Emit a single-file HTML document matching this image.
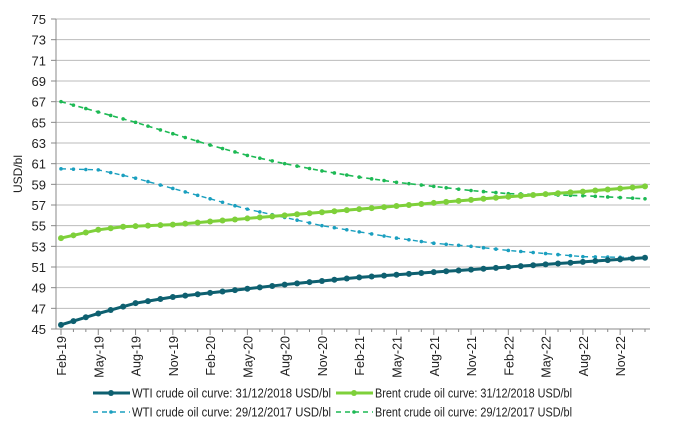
<!DOCTYPE html><html><head><style>body{margin:0;background:#fff}svg{display:block;font-family:"Liberation Sans",sans-serif}</style></head><body>
<svg id="s" width="688" height="443" xmlns="http://www.w3.org/2000/svg"></svg>
<script>
const s=document.getElementById('s');let h='';
const Y=v=>329-(v-45)*10.333;const N=48,x0=61,dx=(645-61)/47;const X=i=>x0+i*dx;
for(let v=45;v<=75;v+=2){const y=Y(v);if(v>45)h+=`<line x1="56" x2="650" y1="${y}" y2="${y}" stroke="#bbb" stroke-width="1"/>`;h+=`<line x1="51" x2="56" y1="${y}" y2="${y}" stroke="#888"/><text x="46" y="${y+5}" font-size="13" text-anchor="end" fill="#222">${v}</text>`;}
h+=`<line x1="56" x2="56" y1="19" y2="329" stroke="#888"/><line x1="56" x2="650" y1="329" y2="329" stroke="#888"/>`;
const m=['Feb','May','Aug','Nov'];
for(let i=0;i<N;i++){const x=X(i);h+=`<line x1="${x}" x2="${x}" y1="329" y2="${i%3==0?335:332}" stroke="#888"/>`;if(i%3==0&&i<=45){const yr=19+Math.floor((i+1)/12);h+=`<text transform="translate(${x+5},336) rotate(-90)" font-size="12.5" text-anchor="end" fill="#222">${m[(i/3)%4]}-${yr}</text>`;}}
h+=`<text transform="translate(22,174) rotate(-90)" font-size="12" text-anchor="middle" fill="#222">USD/bl</text>`;
function interp(a){return t=>{for(let k=0;k<a.length-1;k++){const[t0,v0]=a[k],[t1,v1]=a[k+1];if(t<=t1)return v0+(v1-v0)*(t-t0)/(t1-t0);}return a[a.length-1][1];};}
function ser(f,col,w,dash,mk){let p=[];for(let i=0;i<N;i++)p.push([X(i),Y(f(i))]);h+=`<polyline points="${p.map(a=>a.join(',')).join(' ')}" fill="none" stroke="${col}" stroke-width="${w}" ${dash?`stroke-dasharray="${dash}"`:''}/>`;p.forEach(a=>{h+=mk=='c'?`<circle cx="${a[0]}" cy="${a[1]}" r="3" fill="${col}"/>`:`<circle cx="${a[0]}" cy="${a[1]}" r="1.8" fill="${col}"/>`;});}
ser(interp([[0,67],[3,66],[6,65],[9,63.9],[12,62.8],[15,61.8],[18,61],[21,60.3],[24,59.7],[27,59.2],[30,58.8],[33,58.4],[36,58.1],[39,58],[42,57.9],[47,57.6]]),'#1db954',1.6,'5,4','d');
ser(interp([[0,60.5],[3,60.4],[6,59.6],[9,58.6],[12,57.6],[15,56.6],[18,55.8],[21,55],[24,54.4],[27,53.8],[30,53.3],[33,53],[36,52.6],[39,52.3],[42,52],[47,51.9]]),'#1a9fbf',1.4,'5,4','d');
ser(interp([[0,53.8],[3,54.6],[5,54.9],[9,55.1],[12,55.4],[18,56],[24,56.6],[30,57.2],[36,57.8],[42,58.3],[47,58.8]]),'#7ed03a',3,null,'c');
ser(interp([[0,45.4],[3,46.5],[6,47.5],[9,48.1],[12,48.5],[18,49.3],[24,50],[30,50.5],[36,51],[42,51.5],[47,51.9]]),'#0e6070',3,null,'c');
function leg(x,y,col,solid,txt,tl){if(solid)h+=`<line x1="${x}" x2="${x+37}" y1="${y}" y2="${y}" stroke="${col}" stroke-width="3"/><circle cx="${x+18}" cy="${y}" r="3" fill="${col}"/>`;else h+=`<line x1="${x}" x2="${x+37}" y1="${y}" y2="${y}" stroke="${col}" stroke-width="1.4" stroke-dasharray="5,4"/><circle cx="${x+18}" cy="${y}" r="1.8" fill="${col}"/>`;h+=`<text x="${x+39}" y="${y+4.5}" font-size="12.5" fill="#222" textLength="${tl}" lengthAdjust="spacingAndGlyphs">${txt}</text>`;}
leg(93,393,'#0e6070',1,'WTI crude oil curve: 31/12/2018 USD/bl',199);
leg(336,393,'#7ed03a',1,'Brent crude oil curve: 31/12/2018 USD/bl',197);
leg(93,412,'#1a9fbf',0,'WTI crude oil curve: 29/12/2017 USD/bl',199);
leg(336,412,'#1db954',0,'Brent crude oil curve: 29/12/2017 USD/bl',197);
s.innerHTML=h;
</script></body></html>
